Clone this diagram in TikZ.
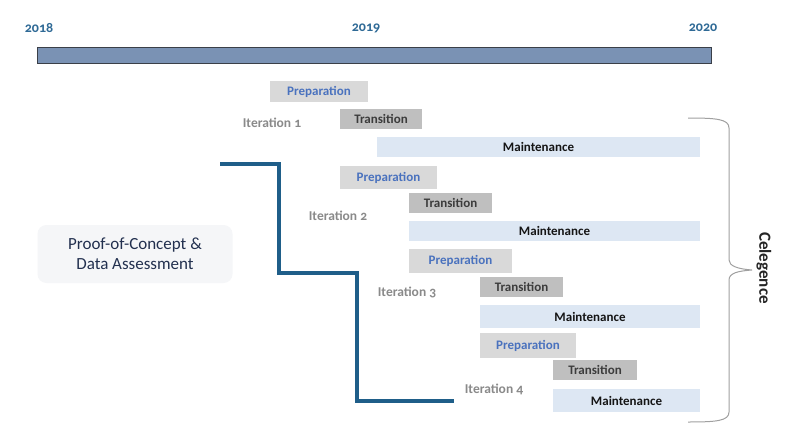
\documentclass[tikz,border=0pt]{standalone}
\usepackage{fontspec}
\setmainfont{Carlito}[Numbers=OldStyle]
\definecolor{yearc}{HTML}{2F6A96}
\definecolor{barfill}{HTML}{7A92B4}
\definecolor{barline}{HTML}{3A3F48}
\definecolor{prepfill}{HTML}{D9D9D9}
\definecolor{preptext}{HTML}{4A72BE}
\definecolor{transfill}{HTML}{BFBFBF}
\definecolor{transtext}{HTML}{3C3C3C}
\definecolor{maintfill}{HTML}{DDE7F3}
\definecolor{mainttext}{HTML}{151515}
\definecolor{itertext}{HTML}{8A8A8A}
\definecolor{stepc}{HTML}{1F5E89}
\definecolor{pocfill}{HTML}{F5F6F8}
\definecolor{poctext}{HTML}{22304F}
\definecolor{bracec}{HTML}{A0A0A0}
\tikzset{
  box/.style={inner sep=0pt, outer sep=0pt, font=\fontsize{13}{15}\selectfont\bfseries},
  prepbox/.style={box, fill=prepfill, text=preptext},
  transbox/.style={box, fill=transfill, text=transtext},
  maintbox/.style={box, fill=maintfill, text=mainttext},
  iterlabel/.style={inner sep=0pt, text=itertext, font=\fontsize{13.5}{15}\selectfont\bfseries},
  yearlabel/.style={inner sep=0pt, text=yearc, font=\fontsize{14}{16}\selectfont\bfseries},
  stepline/.style={draw=stepc, line width=4pt, line join=miter},
  bracestyle/.style={draw=bracec, line width=1pt},
}
\newcommand\mybox[7]{\node[#1, minimum width={#5-#3}, minimum height={#6-#4}] (#2) at ({(#3+#5)/2},{(#4+#6)/2}) {#7};}
\begin{document}
\begin{tikzpicture}[x=1pt,y=-1pt]
\useasboundingbox[fill=white] (0,0) rectangle (800,447);
% timeline
\node[draw=barline, fill=barfill, line width=1pt, inner sep=0pt, minimum width=674, minimum height=16] (bar) at (374,55) {};
\node[yearlabel] (y2018) at (39,28) {2018};
\node[yearlabel] (y2019) at (366,28) {2019};
\node[yearlabel] (y2020) at (703,28) {2020};
% iteration 1
\mybox{prepbox}{p1}{270}{81}{368}{102}{Preparation}
\mybox{transbox}{t1}{340}{109}{422}{129}{Transition}
\mybox{maintbox}{m1}{377}{137}{700}{157}{Maintenance}
\node[iterlabel] (i1) at (272,123) {Iteration 1};
% iteration 2
\mybox{prepbox}{p2}{340}{166}{437}{189}{Preparation}
\mybox{transbox}{t2}{409}{193}{492}{213}{Transition}
\mybox{maintbox}{m2}{409}{221}{700}{241}{Maintenance}
\node[iterlabel] (i2) at (338,216) {Iteration 2};
% iteration 3
\mybox{prepbox}{p3}{409}{249}{512}{273}{Preparation}
\mybox{transbox}{t3}{480}{277}{563}{297}{Transition}
\mybox{maintbox}{m3}{480}{305}{700}{328}{Maintenance}
\node[iterlabel] (i3) at (407,292) {Iteration 3};
% iteration 4
\mybox{prepbox}{p4}{480}{333}{576}{358}{Preparation}
\mybox{transbox}{t4}{553}{360}{637}{380}{Transition}
\mybox{maintbox}{m4}{553}{389}{700}{412}{Maintenance}
\node[iterlabel] (i4) at (494,389) {Iteration 4};
% step line
\coordinate (s0) at (220,164);
\coordinate (s1) at (279,164);
\coordinate (s2) at (279,273);
\coordinate (s3) at (357,273);
\coordinate (s4) at (357,401);
\coordinate (s5) at (454,401);
\draw[stepline] (s0) -- (s1) -- (s2) -- (s3) -- (s4) -- (s5);
% proof of concept
\node[fill=pocfill, rounded corners=9pt, minimum width=195, minimum height=58, inner sep=0pt, align=center, text=poctext, font=\fontsize{17}{20}\selectfont] (poc) at (135,254) {Proof-of-Concept \&\\Data Assessment};
% brace
\draw[bracestyle] (688,118) .. controls (716,118) and (729,119) .. (729,128) -- (729,260)
  .. controls (729,266) and (738,269) .. (752,270)
  .. controls (738,271) and (729,273) .. (729,280) -- (729,412)
  .. controls (729,421) and (716,422) .. (688,422);
\node[rotate=-90, inner sep=0pt, text=black!85, font=\fontsize{17}{20}\selectfont\bfseries] (cel) at (764,268) {Celegence};
\end{tikzpicture}
\end{document}
